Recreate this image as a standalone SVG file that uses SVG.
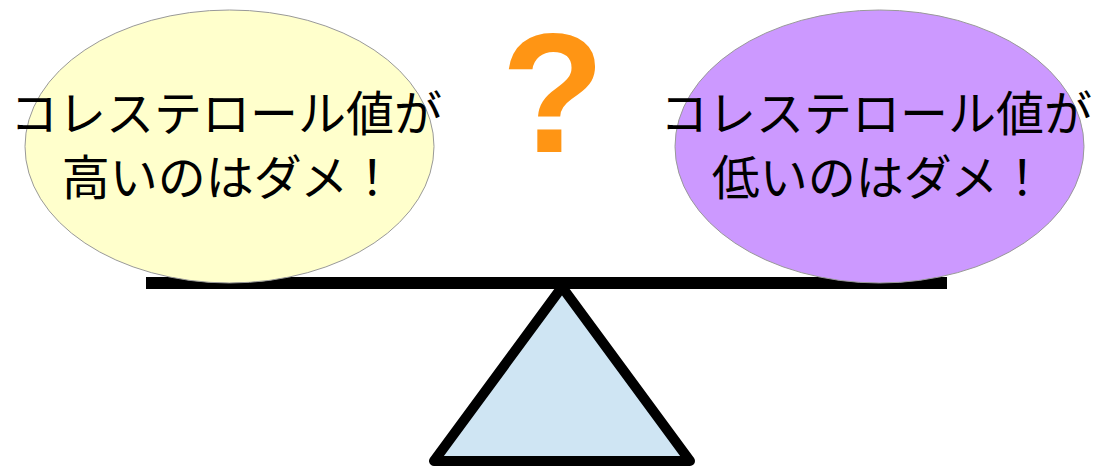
<svg xmlns="http://www.w3.org/2000/svg" width="1107" height="467" viewBox="0 0 1107 467">
<style>
.lbl{font-family:"Noto Sans CJK JP","Noto Sans CJK SC",sans-serif;font-size:48px;fill:#000;text-anchor:middle}
.pan{stroke:#999;stroke-width:1}
</style>
<rect width="1107" height="467" fill="#fff"/>
<g id="connectors"></g>
<g id="fulcrum">
<polygon points="562,287 434,461 690,461" fill="#cfe5f3" stroke="#000" stroke-width="10" stroke-linejoin="round"/>
</g>
<g id="beam">
<rect x="146" y="277" width="801" height="12" fill="#000"/>
</g>
<g id="left">
<ellipse class="pan" cx="229.5" cy="146.5" rx="204.5" ry="136.5" fill="#ffffcc"/>
<text class="lbl" x="226" y="131">コレステロール値が</text>
<text class="lbl" x="229" y="195">高いのはダメ！</text>
</g>
<g id="right">
<ellipse class="pan" cx="879.5" cy="146.5" rx="204.5" ry="136.5" fill="#cc99ff"/>
<text class="lbl" x="876" y="131">コレステロール値が</text>
<text class="lbl" x="879" y="195">低いのはダメ！</text>
</g>
<g id="question">
<text x="553" y="152" font-family="Liberation Sans, Arial, sans-serif" font-weight="bold" font-size="170" fill="#ff9514" text-anchor="middle">?</text>
</g>
</svg>
